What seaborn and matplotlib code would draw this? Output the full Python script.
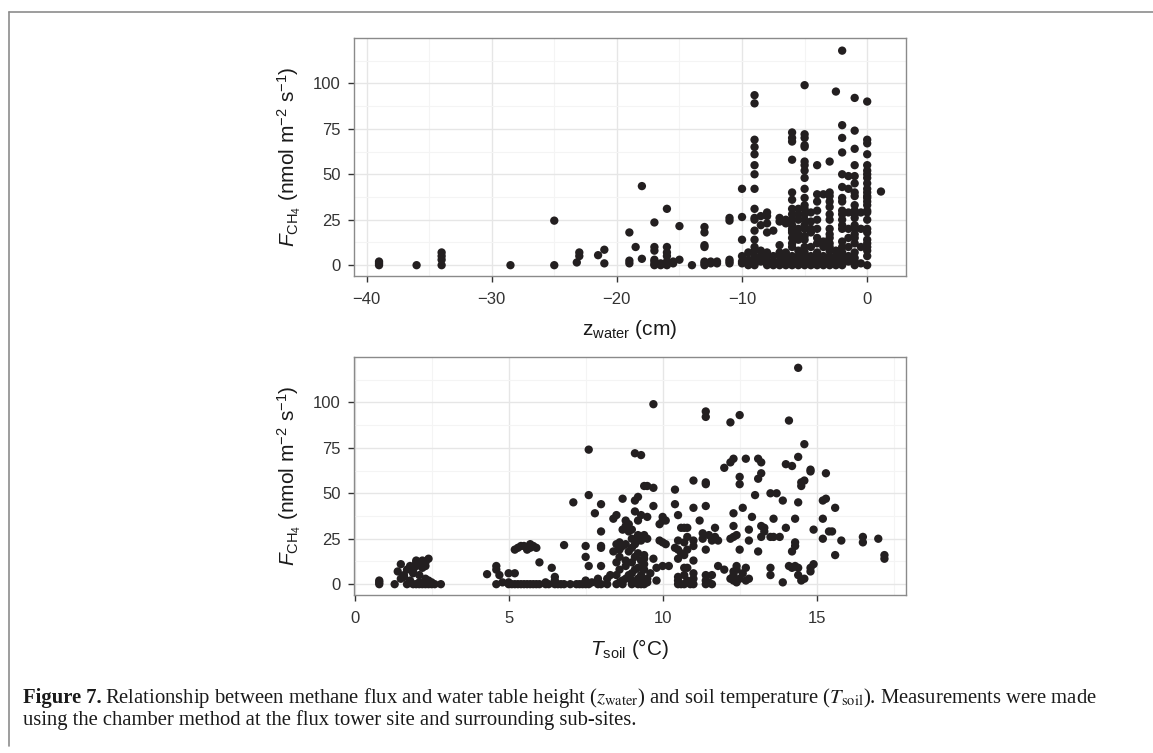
import matplotlib
matplotlib.use("Agg")
import matplotlib.pyplot as plt
import seaborn as sns
import pandas as pd
from matplotlib.lines import Line2D
from matplotlib.ticker import MultipleLocator

# ---------------- data ----------------
z_cols = [-39, -36, -34, -28.5, -25, -23.2, -23, -21.5, -21, -19, -18.5, -18,
          -17, -16.5, -16, -15.5, -15, -14, -13, -12.5, -12, -11, -10, -9.5,
          -9, -8.5, -8, -7.5, -7, -6.5, -6, -5.5, -5, -4.5, -4, -3.5, -3,
          -2.5, -2, -1.5, -1, -0.5, 0, 1.1]
flux_by_z = [
    [0, 1, 2],
    [0],
    [0, 3, 5, 7],
    [0],
    [0, 24.5],
    [1.5],
    [5, 7],
    [5.5],
    [1, 8.5],
    [1, 2.5, 18],
    [10],
    [3.5, 43.5],
    [0, 0.5, 2, 3, 8, 10, 23.5],
    [0, 1],
    [0, 1, 2, 5, 7, 10, 31],
    [1, 2],
    [3, 21.5],
    [0],
    [0, 1, 2, 10, 11, 18, 21],
    [1, 2],
    [1, 2],
    [1, 2, 3, 24.5, 26],
    [1, 2, 5, 14, 26.5, 42],
    [0, 2, 3, 7],
    [0, 1, 2, 3, 4, 5, 8, 10, 14, 19, 25, 26, 31, 42, 50, 55, 61, 65, 69, 89, 93.5],
    [2, 5, 8, 22, 27],
    [0, 2, 5, 7, 18, 23, 27, 29],
    [0, 2, 5, 19],
    [0, 2, 5, 7, 11, 24, 26],
    [0, 3, 5, 7, 23, 25],
    [0, 1, 2, 3, 5, 10, 12, 15, 18, 19, 20, 22, 25, 28, 31, 36, 40, 58, 68, 70, 73],
    [0, 2, 5, 8, 14, 17, 20, 25, 28, 31],
    [0, 1, 2, 3, 5, 7, 10, 14, 16, 20, 22, 25, 28, 31, 33, 37, 42, 48, 52, 55,
     57, 65, 66, 70, 72, 99],
    [0, 2, 5, 10, 18, 20, 24, 29],
    [0, 3, 5, 7, 12, 15, 20, 25, 30, 35, 39, 55],
    [0, 2, 5, 10, 13, 39],
    [0, 1, 2, 3, 5, 8, 10, 12, 15, 17, 20, 25, 28, 32, 35, 38, 40, 57],
    [0, 2, 5, 8, 95.5],
    [0, 1, 2, 3, 5, 7, 10, 13, 20, 22, 25, 28, 30, 35, 37, 43, 50, 62, 70, 77, 118],
    [2, 5, 10, 15, 20, 29, 42, 49],
    [0, 2, 4, 7, 12, 15, 17, 20, 22, 26, 28, 30, 33, 38, 40, 45, 49, 55, 64, 74, 92],
    [1, 10, 20, 29],
    [0, 5, 8, 10, 12, 14, 18, 20, 25, 29, 30, 33, 35, 37, 38, 40, 42, 45, 48,
     50, 52, 55, 61, 67, 69, 90],
    [40.5],
]

t_cols = [0.8, 1.3, 1.4, 1.5, 1.6, 1.7, 1.8, 1.9, 2.0, 2.1, 2.2, 2.3, 2.4, 2.5,
          2.6, 2.8, 4.3, 4.6, 4.7, 4.8, 5.0, 5.1, 5.2, 5.3, 5.4, 5.5, 5.6, 5.7,
          5.8, 5.9, 6.0, 6.2, 6.3, 6.4, 6.5, 6.6, 6.7, 6.8, 7.0, 7.1, 7.2, 7.3,
          7.4, 7.5, 7.6, 7.7, 7.8, 7.9, 8.0, 8.2, 8.3, 8.4, 8.5, 8.6, 8.7, 8.8,
          8.9, 9.0, 9.1, 9.2, 9.3, 9.4, 9.5, 9.6, 9.7, 9.8, 9.9, 10.0, 10.1,
          10.2, 10.4, 10.5, 10.6, 10.7, 10.8, 10.9, 11.0, 11.2, 11.3, 11.4,
          11.5, 11.6, 11.7, 11.8, 12.0, 12.2, 12.3, 12.4, 12.5, 12.6, 12.7,
          12.8, 12.9, 13.0, 13.1, 13.2, 13.3, 13.5, 13.6, 13.7, 13.8, 13.9,
          14.0, 14.1, 14.2, 14.3, 14.4, 14.5, 14.6, 14.8, 14.9, 15.2, 15.3,
          15.4, 15.5, 15.6, 15.8, 16.5, 17.0, 17.2]
flux_by_t = [
    [0, 1, 2], [0], [7], [3, 11], [4, 5], [0, 8], [2, 10], [0, 6, 8],
    [0, 10, 12, 13], [0, 1, 5], [0, 9, 11, 13], [0, 3, 10, 12], [0, 1, 2, 14],
    [0, 1], [0], [0],
    [5.5], [0, 8, 10], [5], [1], [0, 1, 6], [0], [0, 6, 19], [0, 20],
    [0, 21], [0, 21], [0, 19], [0, 20, 22], [0, 21], [0, 20], [0, 12],
    [0, 1], [0], [9], [0, 2, 4], [0], [0], [0, 21.5], [0], [45], [0], [0],
    [0], [0, 2, 15, 21], [0, 10, 49, 74], [1], [39], [0, 3],
    [0, 10, 20, 21, 29, 44], [0, 3], [5], [18, 36], [0, 5, 12, 22, 38],
    [1, 8, 15, 19, 23], [0, 2, 21, 30, 47], [3, 10, 13, 22, 32, 35],
    [5, 18, 29, 33], [0, 2, 6, 12, 20, 25, 30], [1, 8, 15, 22, 40, 46, 72],
    [0, 3, 9, 17, 24, 27, 35, 48], [0, 4, 5, 13, 24, 26, 38, 71],
    [0, 2, 8, 11, 14, 16, 27, 54], [1, 3, 25, 37, 54], [6],
    [14, 43, 53, 99], [2, 9], [24, 33], [10, 23, 35, 37], [22, 35], [10],
    [20, 44, 52], [0, 2, 4, 14, 19, 24, 38], [0, 17, 31],
    [0, 5, 9, 16, 23, 31], [1, 2, 9, 19, 26, 31], [0, 1],
    [0, 3, 6, 13, 21, 24, 42, 57], [35], [25, 28],
    [0, 2, 5, 19, 43, 55, 56, 92, 95], [1, 27], [0, 5, 24], [26, 31],
    [10, 24], [8, 64], [3, 25, 67, 89], [2, 5, 7, 26, 32, 39, 69],
    [1, 8, 10, 27], [3, 19, 55, 59, 93], [6, 42], [2, 9, 69], [3, 24, 30],
    [37], [49], [18, 58, 69], [26, 32, 61, 67], [29, 31], [5, 9, 26, 50],
    [26, 36], [50], [26], [1, 46], [31, 66], [10, 90], [9, 18, 65],
    [10, 21, 23, 36], [5, 9, 45, 70, 119], [2, 54, 56], [3, 57, 77],
    [7, 9, 62, 63], [11, 30], [25, 36, 46], [47, 61], [29], [29], [16, 42],
    [24], [23, 26], [25], [14, 16],
]

x_ticks_top = [-40, -30, -20, -10, 0]
x_ticks_bot = [0, 5, 10, 15]
y_ticks = [0, 25, 50, 75, 100]

top_df = pd.DataFrame(
    [(x, y) for x, ys in zip(z_cols, flux_by_z) for y in ys],
    columns=["z_water", "flux"])
bot_df = pd.DataFrame(
    [(x, y) for x, ys in zip(t_cols, flux_by_t) for y in ys],
    columns=["t_soil", "flux"])

# ---------------- style ----------------
sns.set_theme(style="white")
plt.rcParams["font.family"] = ["Liberation Sans", "DejaVu Sans"]
plt.rcParams["mathtext.fontset"] = "custom"
plt.rcParams["mathtext.rm"] = "Liberation Sans"
plt.rcParams["mathtext.it"] = "Liberation Sans:italic"
plt.rcParams["mathtext.bf"] = "Liberation Sans:bold"

W, H = 1153, 753
fig = plt.figure(figsize=(W / 100, H / 100), dpi=100)
fig.patch.set_facecolor("white")

ax1 = fig.add_axes([354 / W, 1 - 276 / H, (906 - 354) / W, (276 - 38) / H])
ax2 = fig.add_axes([354 / W, 1 - 595 / H, (906 - 354) / W, (595 - 357) / H])

point_color = "#231f20"
sns.scatterplot(data=top_df, x="z_water", y="flux", ax=ax1, color=point_color,
                s=36, linewidth=0, edgecolor="none", legend=False)
sns.scatterplot(data=bot_df, x="t_soil", y="flux", ax=ax2, color=point_color,
                s=36, linewidth=0, edgecolor="none", legend=False)


def style_axes(ax, xlim, xticks, xminor):
    ax.set_xlim(*xlim)
    ax.set_ylim(-5.95, 124.95)
    ax.set_xticks(xticks)
    ax.set_yticks(y_ticks)
    ax.xaxis.set_minor_locator(MultipleLocator(xminor))
    ax.yaxis.set_minor_locator(MultipleLocator(12.5))
    ax.set_axisbelow(True)
    ax.grid(True, which="major", color="#e6e6e6", linewidth=1.0)
    ax.grid(True, which="minor", color="#f4f4f4", linewidth=0.8)
    for sp in ax.spines.values():
        sp.set_visible(True)
        sp.set_color("#8a8a8a")
        sp.set_linewidth(1.0)
    ax.tick_params(which="major", direction="out", length=4.5, width=1.0,
                   color="#333333", labelsize=12, labelcolor="#333333",
                   bottom=True, left=True)
    ax.tick_params(axis="x", which="major", pad=7)
    ax.tick_params(axis="y", which="major", pad=5)
    ax.tick_params(which="minor", length=0)


style_axes(ax1, (-41.0, 3.1), x_ticks_top, 5)
style_axes(ax2, (-0.02, 17.9), x_ticks_bot, 2.5)

ylab = r"$F_{\mathrm{CH_4}}$ (nmol m$^{-2}$ s$^{-1}$)"
for ax in (ax1, ax2):
    ax.set_ylabel(ylab, fontsize=15, color="#1a1a1a", labelpad=7)
ax1.set_xlabel(r"$\mathrm{z}_{\mathrm{water}}$ (cm)", fontsize=15,
               color="#1a1a1a", labelpad=8)
ax2.set_xlabel(r"$T_{\mathrm{soil}}$ ($\degree$C)", fontsize=15,
               color="#1a1a1a", labelpad=8)

# ---------------- page frame ----------------
fig.add_artist(Line2D([9 / W, 1.0], [1 - 12 / H, 1 - 12 / H],
                      transform=fig.transFigure, color="#8c8c8c", lw=1.2))
fig.add_artist(Line2D([9 / W, 9 / W], [1 - 12 / H, 1 - 746 / H],
                      transform=fig.transFigure, color="#8c8c8c", lw=1.2))

# ---------------- caption ----------------
cap_kw = dict(fontsize=14.9, color="#1a1a1a", va="baseline",
              family=["Liberation Serif", "DejaVu Serif"],
              math_fontfamily="stix")
x0 = 23 / W
y1 = 1 - 703 / H
y2 = 1 - 725 / H
t_bold = fig.text(x0, y1, "Figure 7.", fontweight="bold", **cap_kw)
fig.canvas.draw()
bb = t_bold.get_window_extent(renderer=fig.canvas.get_renderer())
fig.text(bb.x1 / W + 3 / W, y1,
         r"Relationship between methane flux and water table height "
         r"($z_{\mathrm{water}}$) and soil temperature ($T_{\mathrm{soil}}$). "
         r"Measurements were made", **cap_kw)
fig.text(x0, y2, "using the chamber method at the flux tower site and "
         "surrounding sub-sites.", **cap_kw)

fig.savefig("out.png", dpi=100, facecolor="white")
